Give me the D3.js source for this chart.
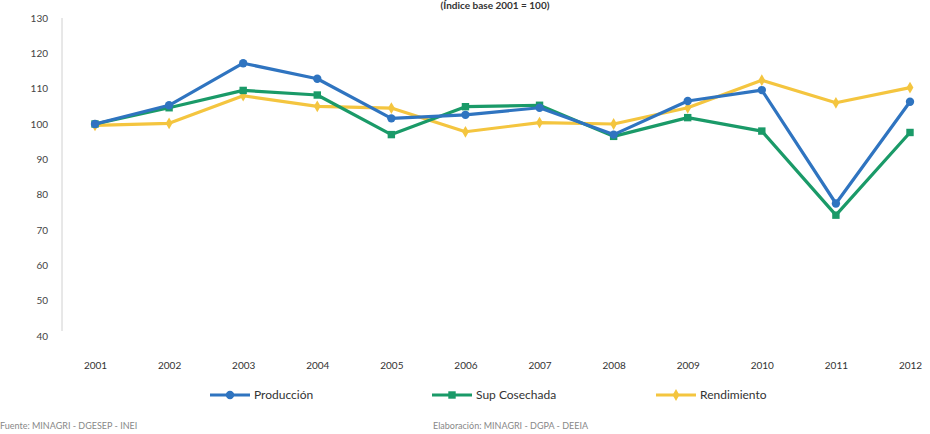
<!DOCTYPE html>
<html><head><meta charset="utf-8">
<script src="https://cdn.jsdelivr.net/npm/d3@7"></script>
<style>body{margin:0;background:#fff;}svg{display:block;font-family:Lato,"Open Sans",sans-serif;}</style>
</head><body><svg id="c" width="930" height="434"></svg>
<script>
const years = ["2001","2002","2003","2004","2005","2006","2007","2008","2009","2010","2011","2012"];
const produccion = [100,105.3,117.2,112.8,101.6,102.6,104.6,97,106.5,109.6,77.5,106.3];
const supCosechada = [100,104.6,109.5,108.2,97,104.9,105.3,96.5,101.8,98,74.2,97.6];
const rendimiento = [99.6,100.2,108,105,104.5,97.8,100.4,100,104.6,112.4,106,110.3];
const yTicks = [40,50,60,70,80,90,100,110,120,130];
const seriesNames = ["Producción","Sup Cosechada","Rendimiento"];
const colors = ["#2f74c0","#1a9a68","#f4c53f"];
const title = "(Índice base 2001 = 100)";
const source = "Fuente: MINAGRI - DGESEP - INEI";
const credit = "Elaboración: MINAGRI - DGPA - DEEIA";

const svg = d3.select("#c");
const x = d3.scalePoint().domain(years).range([95,910]);
const y = d3.scaleLinear().domain([40,130]).range([336,18]);

svg.append("text").attr("x",495).attr("y",9).attr("text-anchor","middle")
  .attr("font-size",10).attr("font-weight","bold").attr("fill","#333").text(title);

// y axis
const ya = svg.append("g").attr("transform","translate(62,0)")
  .call(d3.axisLeft(y).tickValues(yTicks).tickSize(0).tickPadding(14));
ya.select(".domain").attr("stroke","#d0d0d0").attr("d","M0,18V331");
ya.selectAll("text").attr("font-size",10).attr("fill","#444").attr("font-family","Lato,sans-serif");

// x axis
const xa = svg.append("g").attr("transform","translate(0,345)")
  .call(d3.axisBottom(x).tickSize(0).tickPadding(17));
xa.select(".domain").remove();
xa.selectAll("text").attr("font-size",10).attr("fill","#333").attr("font-family","Lato,sans-serif");

const data = [produccion, supCosechada, rendimiento];
const line = d3.line().x((d,i)=>x(years[i])).y(d=>y(d));
const order = [2,1,0];
order.forEach(k=>{
  const g = svg.append("g");
  g.append("path").datum(data[k]).attr("d",line).attr("fill","none")
    .attr("stroke",colors[k]).attr("stroke-width",3.2).attr("stroke-linejoin","round");
  g.selectAll("path.m").data(data[k]).enter().append("path").attr("class","m")
    .attr("d", d3.symbol().type(k===0?d3.symbolCircle:(k===1?d3.symbolSquare:d3.symbolDiamond)).size(k===2?40:55))
    .attr("transform",(d,i)=>`translate(${x(years[i])},${y(d)})`)
    .attr("fill",colors[k]);
});

// legend
const legX = [210,432,656];
seriesNames.forEach((n,k)=>{
  const g = svg.append("g").attr("transform",`translate(${legX[k]},395)`);
  g.append("line").attr("x1",0).attr("x2",40).attr("stroke",colors[k]).attr("stroke-width",3.2);
  g.append("path").attr("d",d3.symbol().type(k===0?d3.symbolCircle:(k===1?d3.symbolSquare:d3.symbolDiamond)).size(k===2?40:55))
    .attr("transform","translate(20,0)").attr("fill",colors[k]);
  g.append("text").attr("x",44).attr("y",4).attr("font-size",12).attr("fill","#333").text(n);
});

svg.append("text").attr("x",0).attr("y",429).attr("font-size",9).attr("fill","#888").text(source);
svg.append("text").attr("x",433).attr("y",429).attr("font-size",9).attr("fill","#888").text(credit);
</script></body></html>
